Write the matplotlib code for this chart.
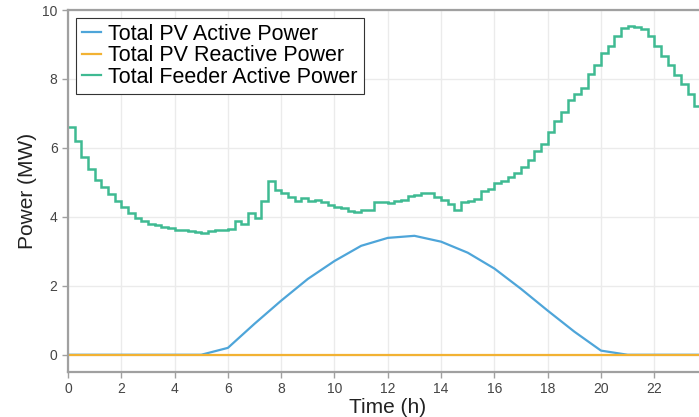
import numpy as np
import matplotlib
matplotlib.use("Agg")
import matplotlib.pyplot as plt
from matplotlib.lines import Line2D

plt.rcParams['font.family'] = ['Liberation Sans', 'DejaVu Sans']

# ---- data ----
pv_hours = [0, 1, 2, 3, 4, 5, 6, 7, 8, 9, 10, 11, 12, 13, 14, 15, 16, 17, 18, 19, 20, 21, 22, 23, 24]
pv_active = [0, 0, 0, 0, 0, 0, 0.2, 0.9, 1.57, 2.2, 2.72, 3.16, 3.39, 3.45, 3.28, 2.96,
             2.5, 1.91, 1.28, 0.67, 0.12, 0, 0, 0, 0]
pv_reactive = [0] * 25

feeder_step_h = 0.25
feeder_active = [
    6.60, 6.20, 5.75, 5.40, 5.07, 4.87, 4.67, 4.47,
    4.29, 4.12, 3.97, 3.89, 3.80, 3.76, 3.72, 3.67,
    3.63, 3.61, 3.60, 3.57, 3.53, 3.60, 3.62, 3.62,
    3.65, 3.88, 3.80, 4.10, 3.98, 4.45, 5.05, 4.78,
    4.70, 4.58, 4.45, 4.55, 4.45, 4.50, 4.42, 4.35,
    4.28, 4.25, 4.18, 4.14, 4.20, 4.19, 4.42, 4.44,
    4.41, 4.46, 4.50, 4.60, 4.62, 4.68, 4.70, 4.58,
    4.50, 4.36, 4.20, 4.42, 4.46, 4.52, 4.74, 4.82,
    4.97, 5.05, 5.15, 5.28, 5.45, 5.65, 5.90, 6.10,
    6.45, 6.78, 7.05, 7.40, 7.55, 7.75, 8.15, 8.40,
    8.75, 8.95, 9.25, 9.48, 9.55, 9.52, 9.45, 9.25,
    8.95, 8.68, 8.40, 8.12, 7.86, 7.55, 7.22, 7.10,
]
x_ticks = [0, 2, 4, 6, 8, 10, 12, 14, 16, 18, 20, 22]
y_ticks = [0, 2, 4, 6, 8, 10]
labels = ["Total PV Active Power", "Total PV Reactive Power", "Total Feeder Active Power"]

# ---- figure ----
W, H = 699, 417
fig = plt.figure(figsize=(W / 100, H / 100), dpi=100)
left_px, right_px, top_px, bot_px = 68, 707.6, 10, 372
ax = fig.add_axes([left_px / W, (H - bot_px) / H, (right_px - left_px) / W, (bot_px - top_px) / H])

c_blue = '#4ea5d9'
c_orange = '#f2b233'
c_green = '#3fba92'

ax.plot(pv_hours, pv_active, color=c_blue, lw=1.6, label=labels[0])
ax.plot(pv_hours, pv_reactive, color=c_orange, lw=1.6, label=labels[1])
edges = np.arange(len(feeder_active) + 1) * feeder_step_h
ax.stairs(feeder_active, edges, color=c_green, lw=1.8, label=labels[2], baseline=None)

ax.set_xlim(0, 24)
ax.set_ylim(-0.5, 10)
ax.set_xticks(x_ticks)
ax.set_yticks(y_ticks)
ax.grid(True, color='#ebebeb', lw=1)
ax.set_axisbelow(True)

for side in ['left', 'bottom', 'top']:
    ax.spines[side].set_color('#a0a0a0')
    ax.spines[side].set_linewidth(1.6)
ax.spines['right'].set_visible(False)
ax.tick_params(direction='out', length=4, width=1, color='#a0a0a0',
               labelsize=10, labelcolor='#454545')

ax.set_xlabel("Time (h)", fontsize=15, color='#222222', labelpad=1)
ax.set_ylabel("Power (MW)", fontsize=15, color='#222222', labelpad=4)

handles = [Line2D([], [], color=c, lw=1.6) for c in (c_blue, c_orange, c_green)]
leg = ax.legend(handles, labels, loc='upper left', fontsize=15.5, frameon=True, fancybox=False,
                edgecolor='#333333', framealpha=1, handlelength=0.9, handletextpad=0.3,
                labelspacing=0.02, borderaxespad=0.35, borderpad=0.3)
leg.get_frame().set_linewidth(0.8)

fig.savefig("out.png", dpi=100)
